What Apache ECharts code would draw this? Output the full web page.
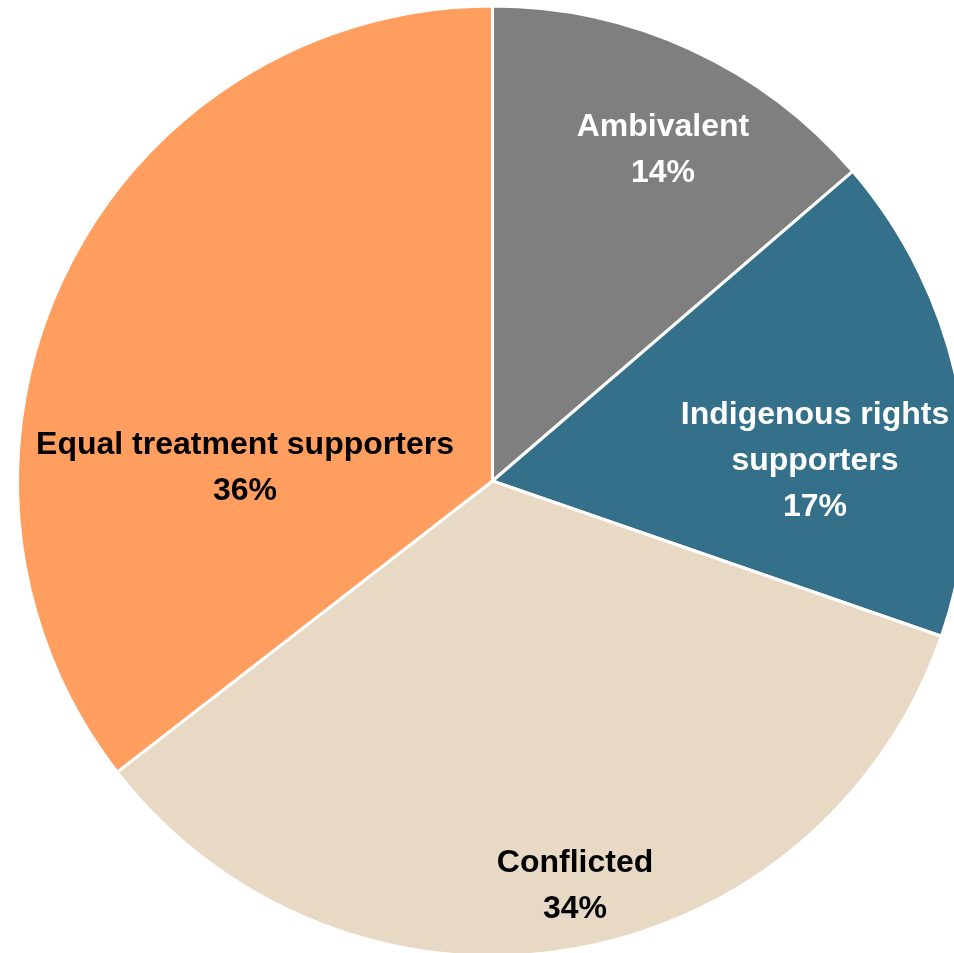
<!DOCTYPE html>
<html>
<head>
<meta charset="utf-8">
<script src="https://cdn.jsdelivr.net/npm/echarts@6/dist/echarts.min.js"></script>
<style>
html,body{margin:0;padding:0;background:#fff;}
#chart{width:954px;height:953px;}
</style>
</head>
<body>
<div id="chart"></div>
<script>
// Data
var categories = ['Ambivalent', 'Indigenous rights supporters', 'Conflicted', 'Equal treatment supporters'];
var labelNames = ['Ambivalent', 'Indigenous rights\nsupporters', 'Conflicted', 'Equal treatment supporters'];
var values = [13.7, 16.6, 34.2, 35.5];
var percentLabels = ['14%', '17%', '34%', '36%'];

// Styles
var colors = ['#7F7F7F', '#34708A', '#E8D9C5', '#FF9E5E'];
var textColors = ['#FFFFFF', '#FFFFFF', '#000000', '#000000'];
var labelCenters = [[663, 150], [815, 461], [575, 886], [245, 468]];

var chart = echarts.init(document.getElementById('chart'), null, {renderer: 'canvas'});
var data = categories.map(function (c, i) {
  return {
    name: c,
    value: values[i],
    itemStyle: {color: colors[i]},
    label: {color: textColors[i]}
  };
});
chart.setOption({
  animation: false,
  backgroundColor: '#FFFFFF',
  series: [{
    type: 'pie',
    center: [492.5, 481],
    radius: [0, 475],
    startAngle: 90,
    clockwise: true,
    data: data,
    itemStyle: {borderColor: '#FFFFFF', borderWidth: 3},
    label: {
      show: true,
      position: 'inside',
      fontFamily: 'Liberation Sans',
      fontWeight: 'bold',
      fontSize: 32,
      lineHeight: 46,
      align: 'center',
      formatter: function (p) {
        return labelNames[p.dataIndex] + '\n' + percentLabels[p.dataIndex];
      }
    },
    labelLine: {show: false},
    labelLayout: function (p) {
      var c = labelCenters[p.dataIndex];
      return {x: c[0], y: c[1], align: 'center', verticalAlign: 'middle'};
    },
    emphasis: {disabled: true}
  }]
});
</script>
</body>
</html>
